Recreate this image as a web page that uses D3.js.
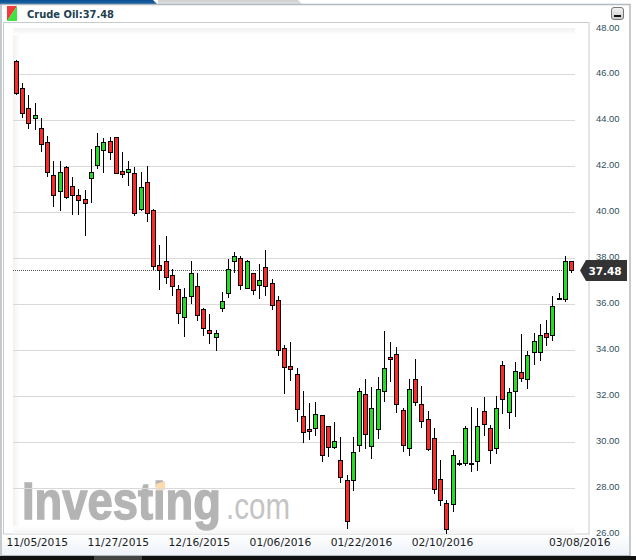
<!DOCTYPE html>
<html><head><meta charset="utf-8">
<style>html,body{margin:0;padding:0;background:#fff;overflow:hidden}svg{display:block}</style>
<script src="https://cdn.jsdelivr.net/npm/d3@7"></script></head><body>
<svg id="c" width="636" height="560"></svg>
<script>
const title = "Crude Oil:37.48";
const lastValue = 37.48;
const opens = [46.57,45.39,44.52,44.09,43.65,43.04,41.61,40.91,41.96,41.13,40.74,40.57,41.48,42.03,42.70,43.09,43.26,41.78,41.74,41.70,40.13,41.30,40.09,37.70,37.87,37.26,36.65,35.43,36.35,36.78,35.78,34.87,34.57,35.83,36.48,37.87,38.00,36.70,37.35,36.83,37.61,36.91,36.17,34.09,33.30,32.96,31.13,30.57,30.61,31.17,30.70,29.78,29.22,28.35,28.35,29.87,32.09,29.83,30.57,32.22,33.70,33.83,31.39,29.74,32.74,31.65,31.00,30.17,28.39,27.35,27.30,29.10,29.09,29.09,29.17,31.35,30.61,29.74,33.35,31.30,32.22,33.04,32.74,33.91,33.91,34.74,34.65,36.25,36.22,37.87];
const closes = [45.20,44.29,43.86,44.22,42.96,41.74,40.74,41.74,40.65,40.74,40.52,40.39,41.74,42.87,43.04,42.61,41.70,41.65,41.87,39.96,41.09,39.96,37.65,37.49,37.17,36.78,35.61,36.30,37.35,35.52,34.96,34.72,34.74,36.13,37.52,38.09,36.83,37.87,36.61,37.04,36.78,35.96,34.00,33.26,33.17,31.43,30.43,30.48,31.22,29.43,29.78,30.04,28.48,26.57,29.57,32.22,30.35,31.48,32.30,33.22,33.61,31.65,29.87,32.30,31.74,30.91,29.70,27.96,27.48,26.22,29.43,29.07,30.61,29.06,30.70,30.78,29.65,31.48,31.87,32.17,33.09,32.78,33.78,34.39,34.65,34.57,35.91,36.22,37.87,37.48];
const highs = [46.65,45.64,45.10,44.75,44.12,43.33,42.22,42.26,42.03,41.55,41.04,41.00,42.75,43.46,43.26,43.30,43.30,42.61,42.22,41.96,41.78,42.00,40.14,38.57,39.00,37.54,36.83,36.70,37.87,37.35,35.83,35.57,34.88,36.55,37.96,38.28,38.09,37.93,37.39,37.78,38.39,37.09,36.39,34.26,34.35,33.22,32.22,31.72,31.78,31.19,30.70,30.90,30.22,28.59,30.26,32.38,32.74,32.42,32.86,34.83,34.39,34.17,31.52,32.74,33.61,32.46,31.39,30.61,29.23,27.49,29.67,29.23,30.71,31.54,31.49,32.00,30.74,32.04,33.54,32.39,33.49,34.71,33.99,34.77,35.17,35.33,36.35,36.48,38.12,37.91];
const lows = [45.10,44.12,43.64,43.58,42.62,41.55,40.22,40.06,40.59,39.91,39.88,39.00,40.42,41.87,41.72,42.30,41.67,41.51,41.17,39.84,40.06,39.58,37.52,36.65,36.87,36.39,35.17,34.57,36.04,35.30,34.64,34.30,33.99,35.68,36.30,37.39,36.61,36.68,36.42,36.25,36.35,35.74,33.78,32.13,32.67,30.91,29.96,30.13,30.29,29.17,29.39,29.70,28.25,26.22,27.90,29.57,29.72,29.29,30.16,31.77,32.65,31.30,29.59,29.42,31.57,30.65,29.61,27.77,27.26,26.04,26.96,28.97,28.99,28.71,28.74,30.30,29.07,29.51,31.23,30.57,31.09,32.65,32.33,33.38,33.55,34.20,34.42,36.20,36.10,37.39];
const priceTicks = [48,46,44,42,40,38,36,34,32,30,28,26];
const gridValues = [46,44,42,40,38,36,34,32,30,28];
const dateLabels = ["11/05/2015","11/27/2015","12/16/2015","01/06/2016","01/22/2016","02/10/2016","03/08/2016"];
const dateSlots = [3,16,29,42,55,68,90];

const svg = d3.select("#c");
const defs = svg.append("defs");
function grad(id, x2, y2, stops){
  const g = defs.append("linearGradient").attr("id",id).attr("x1",0).attr("y1",0).attr("x2",x2).attr("y2",y2);
  stops.forEach(s=>g.append("stop").attr("offset",s[0]).attr("stop-color",s[1]));
}
grad("blue",0,1,[[0,"#0d4f8f"],[1,"#1f6bb0"]]);
grad("grayTab",0,1,[[0,"#cfcfcf"],[1,"#e6e6e6"]]);
grad("fadeL",1,0,[[0,"#f1f1f1"],[1,"#ffffff"]]);
grad("fadeT",0,1,[[0,"#f1f1f1"],[1,"#ffffff"]]);
grad("fadeB",0,1,[[0,"#ffffff"],[1,"#f3f3f3"]]);
grad("strip",0,1,[[0,"#ffffff"],[1,"#eef3f9"]]);
grad("btn",0,1,[[0,"#f4f4f4"],[1,"#c8c8c8"]]);

const y = d3.scaleLinear().domain([26,46]).range([534.5,74.5]);
const x = d3.scaleLinear().domain([0,89]).range([16.5,571.5]);
const px = v => Math.floor(v)+0.5;

// panel chrome
svg.append("rect").attr("x",0).attr("y",0).attr("width",636).attr("height",560).attr("fill","#fff");
svg.append("path").attr("d","M0,0H153L158,5H0Z").attr("fill","url(#blue)");
svg.append("path").attr("d","M158,0H298L303,5H158Z").attr("fill","url(#grayTab)");
svg.append("rect").attr("x",1).attr("y",4.5).attr("width",629).attr("height",551).attr("fill","#fff").attr("stroke","#b4b9bd").attr("stroke-width",1.5);
svg.append("rect").attr("x",2).attr("y",534).attr("width",627).attr("height",21).attr("fill","url(#strip)");
svg.append("rect").attr("x",3.5).attr("y",22.5).attr("width",585.5).attr("height",511.5).attr("fill","#fff").attr("stroke","#c9cccd").attr("stroke-width",1);
svg.append("rect").attr("x",13).attr("y",28).attr("width",7).attr("height",505).attr("fill","url(#fadeL)");
svg.append("rect").attr("x",13).attr("y",28).attr("width",562).attr("height",7).attr("fill","url(#fadeT)");
svg.append("rect").attr("x",13).attr("y",526).attr("width",562).attr("height",8).attr("fill","url(#fadeB)");
svg.append("rect").attr("x",0).attr("y",556).attr("width",636).attr("height",4).attr("fill","#111");
svg.append("rect").attr("x",94).attr("y",556).attr("width",48).attr("height",4).attr("fill","#444");

// title + icon
svg.append("path").attr("d","M7,6H17L7,21Z").attr("fill","#f43a3a");
svg.append("path").attr("d","M17,6V21H7Z").attr("fill","#3fe23f");
svg.append("text").attr("x",27).attr("y",18).attr("font-family","DejaVu Sans").attr("font-weight","bold").attr("font-size",10)
  .attr("fill","#1d4150").attr("textLength",87).attr("lengthAdjust","spacingAndGlyphs").text(title);

// minimise button
svg.append("rect").attr("x",611.5).attr("y",7.5).attr("width",12).attr("height",12).attr("rx",2.5).attr("fill","url(#btn)").attr("stroke","#777");
svg.append("rect").attr("x",614).attr("y",15).attr("width",7).attr("height",2).attr("fill","#111");

// watermark
const wm = svg.append("g");
wm.append("text").attr("transform","translate(22,519) scale(0.889,1)").attr("font-family","Liberation Sans").attr("font-weight","bold").attr("font-size",51)
  .attr("fill","#b4b4b4").attr("stroke","#b4b4b4").attr("stroke-width",1.4).text("Investing");
wm.append("path").attr("d","M156,484L165,481V490H156Z").attr("fill","#fcdcae");
wm.append("text").attr("x",226).attr("y",519).attr("font-family","Liberation Sans").attr("font-size",36)
  .attr("fill","#c4c4c4").attr("textLength",64).attr("lengthAdjust","spacingAndGlyphs").text(".com");

// grid
svg.append("g").selectAll("line").data(gridValues).join("line")
  .attr("x1",13).attr("x2",575).attr("y1",d=>y(d)).attr("y2",d=>y(d)).attr("stroke","#d9d9d9").attr("stroke-width",1);

// last price dotted
svg.append("line").attr("x1",13).attr("x2",572).attr("y1",px(y(lastValue))).attr("y2",px(y(lastValue)))
  .attr("stroke","#555").attr("stroke-width",1).attr("stroke-dasharray","1,1");

// candles
const idx = d3.range(opens.length);
const g = svg.append("g").attr("shape-rendering","crispEdges");
g.selectAll("line.w").data(idx).join("line").attr("class","w")
  .attr("x1",i=>px(x(i))).attr("x2",i=>px(x(i)))
  .attr("y1",i=>Math.round(y(highs[i]))).attr("y2",i=>Math.round(y(lows[i])))
  .attr("stroke","#000").attr("stroke-width",1);
g.selectAll("rect").data(idx).join("rect")
  .attr("x",i=>px(x(i))-2).attr("width",4)
  .attr("y",i=>px(y(Math.max(opens[i],closes[i]))))
  .attr("height",i=>Math.max(0,Math.round(Math.abs(y(opens[i])-y(closes[i])))))
  .attr("fill",i=>closes[i]<opens[i]?"#fe2a2a":"#22dd22")
  .attr("stroke","#000").attr("stroke-width",1);

// y axis
const yAxis = d3.axisRight(y).tickValues(priceTicks).tickSize(0).tickPadding(0).tickFormat(d3.format(".2f"));
const ya = svg.append("g").attr("transform","translate(596,-2)").call(yAxis);
ya.select(".domain").remove();
ya.selectAll("text").attr("font-family","Liberation Sans").attr("font-size",9.4).attr("fill","#2f4f5a")
  .attr("dy",d=>d===48?"0.45em":"0.34em").attr("x",0);

// x axis
svg.append("g").selectAll("text").data(dateLabels).join("text")
  .attr("x",(d,i)=>x(dateSlots[i])+2).attr("y",546)
  .attr("text-anchor","middle").attr("font-family","DejaVu Sans").attr("font-size",10.7).attr("fill","#1c1c1c").text(d=>d);

// last value flag
svg.append("path").attr("d","M580,270.5L586,260H627V281H586Z").attr("fill","#333");
svg.append("text").attr("x",605).attr("y",274.5).attr("text-anchor","middle").attr("font-family","DejaVu Sans").attr("font-weight","bold")
  .attr("font-size",10.5).attr("fill","#fff").text(d3.format(".2f")(lastValue));
</script></body></html>
